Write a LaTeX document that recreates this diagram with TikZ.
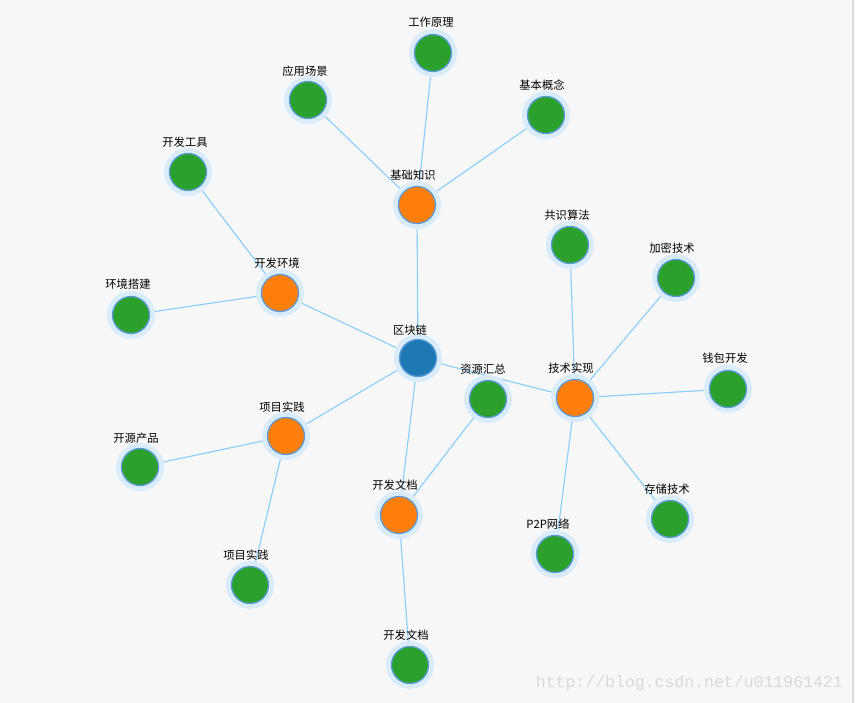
\documentclass[tikz,border=0pt]{standalone}
\usepackage{fontspec}
\newfontfamily\cjk{Noto Sans CJK SC}
\newfontfamily\wmfont{Liberation Mono}
\definecolor{bg}{HTML}{F7F7F7}
\definecolor{cblue}{HTML}{1F77B4}
\definecolor{corange}{HTML}{FF7F0E}
\definecolor{cgreen}{HTML}{2CA02C}
\definecolor{ring}{HTML}{5B9BD5}
\definecolor{halo}{HTML}{D9ECFB}
\definecolor{edgec}{HTML}{87CEFA}
\begin{document}
\begin{tikzpicture}[x=1pt,y=-1pt,
  vert/.style={circle,minimum size=37pt,inner sep=0pt,draw=ring,line width=1.3pt,
     preaction={fill=halo,draw=halo,line width=11pt}},
  hub/.style={vert,fill=cblue},
  mid/.style={vert,fill=corange},
  leaf/.style={vert,fill=cgreen},
  lbl/.style={font=\cjk\fontsize{11.3}{13}\selectfont,text=black,inner sep=0pt},
  link/.style={draw=edgec,line width=1.1pt}]
\fill[bg] (0,0) rectangle (855,703);
\useasboundingbox (0,0) rectangle (855,703);
\draw[gray!25,line width=1.5pt] (853,0) -- (853,703);
% coordinates
\coordinate (c0) at (418,358);
\coordinate (cA) at (417,205);
\coordinate (cA1) at (433,53);
\coordinate (cA2) at (308,100);
\coordinate (cA3) at (546,115);
\coordinate (cB) at (280,293);
\coordinate (cB1) at (188,172);
\coordinate (cB2) at (131,315);
\coordinate (cC) at (575,398);
\coordinate (cC1) at (570,245);
\coordinate (cC2) at (676,278);
\coordinate (cC3) at (728,389);
\coordinate (cC4) at (670,519);
\coordinate (cC5) at (555,554);
\coordinate (cD) at (399,515);
\coordinate (cD1) at (488,399);
\coordinate (cD2) at (410,665);
\coordinate (cE) at (286,436);
\coordinate (cE1) at (140,467);
\coordinate (cE2) at (250,585);
% edges
\path[link] (c0)--(cA) (c0)--(cB) (c0)--(cC) (c0)--(cD) (c0)--(cE)
  (cA)--(cA1) (cA)--(cA2) (cA)--(cA3)
  (cB)--(cB1) (cB)--(cB2)
  (cC)--(cC1) (cC)--(cC2) (cC)--(cC3) (cC)--(cC4) (cC)--(cC5)
  (cD)--(cD1) (cD)--(cD2)
  (cE)--(cE1) (cE)--(cE2);
% nodes
\node[hub] (n0) at (c0) {};
\node[mid] (nA) at (cA) {};
\node[leaf] (nA1) at (cA1) {};
\node[leaf] (nA2) at (cA2) {};
\node[leaf] (nA3) at (cA3) {};
\node[mid] (nB) at (cB) {};
\node[leaf] (nB1) at (cB1) {};
\node[leaf] (nB2) at (cB2) {};
\node[mid] (nC) at (cC) {};
\node[leaf] (nC1) at (cC1) {};
\node[leaf] (nC2) at (cC2) {};
\node[leaf] (nC3) at (cC3) {};
\node[leaf] (nC4) at (cC4) {};
\node[leaf] (nC5) at (cC5) {};
\node[leaf] (nD1) at (cD1) {};
\node[mid] (nD) at (cD) {};
\node[leaf] (nD2) at (cD2) {};
\node[mid] (nE) at (cE) {};
\node[leaf] (nE1) at (cE1) {};
\node[leaf] (nE2) at (cE2) {};
% labels
\node[lbl] (l0) at (410,330) {区块链};
\node[lbl] (lA) at (413,175) {基础知识};
\node[lbl] (lA1) at (431,22) {工作原理};
\node[lbl] (lA2) at (305,71) {应用场景};
\node[lbl] (lA3) at (542,85) {基本概念};
\node[lbl] (lB) at (277,263) {开发环境};
\node[lbl] (lB1) at (185,142) {开发工具};
\node[lbl] (lB2) at (128,284) {环境搭建};
\node[lbl] (lC) at (571,368) {技术实现};
\node[lbl] (lC1) at (567,215) {共识算法};
\node[lbl] (lC2) at (672,248) {加密技术};
\node[lbl] (lC3) at (725,358) {钱包开发};
\node[lbl] (lC4) at (667,489) {存储技术};
\node[lbl] (lC5) at (548,524) {P2P网络};
\node[lbl] (lD) at (395,485) {开发文档};
\node[lbl] (lD1) at (483,369) {资源汇总};
\node[lbl] (lD2) at (406,635) {开发文档};
\node[lbl] (lE) at (282,407) {项目实践};
\node[lbl] (lE1) at (136,438) {开源产品};
\node[lbl] (lE2) at (246,555) {项目实践};
% watermark
\node[font=\wmfont\fontsize{16.5}{18}\selectfont,text=black!15,inner sep=0pt,anchor=east] (wm) at (843,683) {http://blog.csdn.net/u011961421};
\end{tikzpicture}
\end{document}
